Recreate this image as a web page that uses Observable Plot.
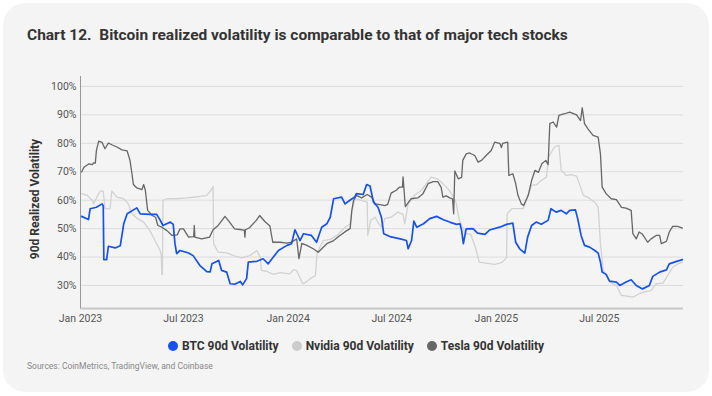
<!DOCTYPE html>
<html><head><meta charset="utf-8">
<script src="https://cdn.jsdelivr.net/npm/d3@7"></script>
<script src="https://cdn.jsdelivr.net/npm/@observablehq/plot@0.6"></script>
<style>
body{margin:0;background:#fff;font-family:Roboto,"Noto Sans",sans-serif;}
#card{position:absolute;left:3px;top:3px;width:706px;height:389px;background:#f4f4f4;border-radius:22px;}
#title{position:absolute;left:27px;top:26px;font-size:15.5px;font-weight:700;color:#333;white-space:nowrap;}
#chart{position:absolute;left:0;top:60px;}
#ylabel{position:absolute;left:35px;top:199px;transform:translate(-50%,-50%) rotate(-90deg);font-size:12px;font-weight:700;color:#333;white-space:nowrap;}
#legend{position:absolute;top:339px;left:0;width:712px;display:flex;justify-content:center;gap:13px;font-size:12px;font-weight:700;color:#333;}
#legend .item{display:flex;align-items:center;gap:4px;}
#legend .dot{width:10px;height:10px;border-radius:50%;}
#src{position:absolute;left:27px;top:361px;font-size:8.5px;color:#888;white-space:nowrap;}
</style></head>
<body>
<div id="card"></div>
<div id="title">Chart 12.&nbsp; Bitcoin realized volatility is comparable to that of major tech stocks</div>
<div id="chart"></div>
<div id="ylabel">90d Realized Volatility</div>
<div id="legend"></div>
<div id="src">Sources: CoinMetrics, TradingView, and Coinbase</div>
<script>
const seriesNames = ["BTC 90d Volatility", "Nvidia 90d Volatility", "Tesla 90d Volatility"];
const seriesColors = ["#1652f0", "#d2d2d2", "#666666"];
const legendColors = ["#1652f0", "#cccccc", "#666666"];
const yTicks = [30, 40, 50, 60, 70, 80, 90, 100];
const xTicks = ["2023-01-01", "2023-07-01", "2024-01-01", "2024-07-01", "2025-01-01", "2025-07-01"];

const btcDates = ["2023-01-03","2023-01-15","2023-01-18","2023-01-29","2023-02-08","2023-02-10","2023-02-11","2023-02-16","2023-02-19","2023-03-03","2023-03-12","2023-03-18","2023-03-24","2023-04-10","2023-04-16","2023-05-03","2023-05-15","2023-05-21","2023-05-26","2023-06-08","2023-06-13","2023-06-16","2023-06-19","2023-06-25","2023-07-10","2023-07-18","2023-07-30","2023-08-11","2023-08-17","2023-08-20","2023-09-01","2023-09-06","2023-09-15","2023-09-21","2023-09-30","2023-10-09","2023-10-13","2023-10-20","2023-10-23","2023-11-07","2023-11-18","2023-11-27","2023-12-06","2023-12-15","2023-12-30","2024-01-07","2024-01-13","2024-01-22","2024-01-28","2024-02-11","2024-02-20","2024-02-29","2024-03-09","2024-03-15","2024-03-21","2024-04-04","2024-04-10","2024-04-18","2024-04-27","2024-04-30","2024-05-12","2024-05-18","2024-05-24","2024-05-30","2024-06-07","2024-06-13","2024-06-17","2024-06-28","2024-07-16","2024-07-27","2024-07-30","2024-08-05","2024-08-09","2024-08-14","2024-08-26","2024-09-06","2024-09-18","2024-09-30","2024-10-11","2024-10-23","2024-10-29","2024-11-01","2024-11-04","2024-11-09","2024-11-21","2024-11-29","2024-12-12","2024-12-20","2025-01-07","2025-01-19","2025-01-30","2025-02-04","2025-02-11","2025-02-20","2025-02-25","2025-03-04","2025-03-12","2025-03-21","2025-04-02","2025-04-07","2025-04-16","2025-04-25","2025-05-04","2025-05-10","2025-05-20","2025-05-24","2025-05-30","2025-06-05","2025-06-14","2025-06-23","2025-06-29","2025-07-03","2025-07-06","2025-07-13","2025-07-19","2025-07-31","2025-08-06","2025-08-17","2025-08-26","2025-09-04","2025-09-15","2025-09-27","2025-10-03","2025-10-15","2025-10-27","2025-11-01","2025-11-10","2025-11-24"];
const btcValues = [54.3,53.2,57.0,57.5,58.7,58.0,39.1,39.1,43.8,43.2,44.0,51.7,55.2,57.3,55.2,55.0,55.0,53.0,51.1,52.3,51.5,44.8,41.2,42.3,41.4,40.5,37.0,34.9,34.8,37.6,38.8,35.3,34.7,30.6,30.5,31.4,30.2,32.4,38.2,38.5,39.4,37.6,40.0,42.3,44.1,44.7,49.6,45.8,48.2,47.6,45.2,50.5,51.7,54.0,60.5,61.1,58.7,59.9,61.1,62.3,62.0,65.5,65.0,59.3,57.5,54.0,48.2,47.2,46.4,45.8,42.9,45.8,52.6,50.5,51.7,53.5,54.3,53.1,52.3,51.5,51.7,49.3,44.7,49.9,50.0,48.4,48.0,49.5,50.5,51.5,51.9,45.2,42.9,41.4,47.0,51.1,52.3,51.5,52.9,57.0,55.8,56.4,55.2,56.4,56.6,53.5,47.6,44.1,43.5,42.3,41.4,38.2,34.7,33.9,31.5,31.2,30.0,31.2,32.0,30.0,28.8,30.0,33.2,34.7,35.5,37.6,38.2,39.1];

const nvdaDates = ["2023-01-03","2023-01-13","2023-01-22","2023-01-24","2023-02-02","2023-02-05","2023-02-10","2023-02-13","2023-02-22","2023-02-25","2023-03-06","2023-03-18","2023-03-26","2023-04-01","2023-04-10","2023-04-22","2023-05-03","2023-05-12","2023-05-21","2023-05-23","2023-05-24","2023-05-25","2023-05-26","2023-06-02","2023-06-19","2023-07-07","2023-07-30","2023-08-11","2023-08-18","2023-08-22","2023-08-23","2023-08-31","2023-09-15","2023-09-27","2023-10-11","2023-10-26","2023-11-07","2023-11-13","2023-11-15","2023-11-24","2023-12-06","2023-12-18","2024-01-04","2024-01-10","2024-01-16","2024-01-25","2024-01-28","2024-02-09","2024-02-18","2024-02-21","2024-03-03","2024-03-15","2024-03-27","2024-04-10","2024-04-19","2024-04-22","2024-04-28","2024-05-07","2024-05-19","2024-05-20","2024-05-25","2024-06-02","2024-06-07","2024-06-14","2024-06-19","2024-06-30","2024-07-12","2024-07-21","2024-07-24","2024-07-30","2024-08-10","2024-08-22","2024-09-02","2024-09-08","2024-09-20","2024-10-02","2024-10-10","2024-10-16","2024-10-22","2024-10-28","2024-11-08","2024-11-17","2024-11-26","2024-12-02","2024-12-20","2024-12-29","2025-01-10","2025-01-19","2025-01-20","2025-01-28","2025-02-17","2025-02-23","2025-03-04","2025-03-13","2025-03-21","2025-03-30","2025-04-03","2025-04-13","2025-04-21","2025-04-25","2025-05-04","2025-05-13","2025-05-22","2025-05-28","2025-06-03","2025-06-11","2025-06-23","2025-06-29","2025-07-03","2025-07-08","2025-07-19","2025-07-31","2025-08-09","2025-08-17","2025-08-29","2025-09-09","2025-09-21","2025-09-30","2025-10-09","2025-10-21","2025-10-29","2025-11-07","2025-11-16","2025-11-24"];
const nvdaValues = [62.3,61.7,59.9,58.7,62.3,63.2,63.2,57.0,57.0,63.2,61.1,60.5,58.7,55.2,53.7,52.3,49.3,45.8,42.3,40.5,33.9,33.9,59.9,60.5,60.5,60.8,61.3,61.7,63.4,64.8,44.7,41.7,41.5,40.5,39.7,40.5,42.3,40.0,35.3,35.0,33.9,34.5,34.1,35.5,35.3,31.2,30.6,32.4,33.5,41.7,45.8,46.2,47.6,50.5,51.7,56.4,60.5,60.0,59.3,47.6,52.9,54.0,52.0,50.5,53.5,54.0,55.8,55.0,51.7,58.7,61.7,63.4,66.3,68.1,67.5,65.2,63.5,61.7,59.3,52.9,48.2,48.0,42.9,38.2,37.7,37.4,38.0,39.7,55.2,57.0,57.0,59.9,65.2,65.5,66.9,68.1,75.2,78.7,79.3,70.5,68.7,69.0,68.5,65.2,61.7,61.0,59.3,57.5,44.7,35.3,31.2,30.0,26.5,26.3,25.9,27.1,27.8,28.2,30.6,30.8,33.5,36.4,37.6,38.2];

const tslaDates = ["2023-01-03","2023-01-07","2023-01-16","2023-01-22","2023-01-24","2023-01-27","2023-01-29","2023-02-02","2023-02-08","2023-02-13","2023-02-19","2023-02-25","2023-03-06","2023-03-15","2023-03-24","2023-03-29","2023-04-01","2023-04-04","2023-04-10","2023-04-19","2023-04-22","2023-04-25","2023-04-29","2023-05-07","2023-05-13","2023-05-17","2023-05-24","2023-06-02","2023-06-11","2023-06-20","2023-06-25","2023-07-01","2023-07-10","2023-07-19","2023-07-20","2023-07-21","2023-08-02","2023-08-16","2023-08-22","2023-08-31","2023-09-12","2023-09-20","2023-09-29","2023-10-11","2023-10-16","2023-10-17","2023-10-18","2023-10-25","2023-11-06","2023-11-12","2023-11-21","2023-11-30","2023-12-05","2023-12-18","2023-12-30","2024-01-07","2024-01-16","2024-01-20","2024-01-25","2024-02-03","2024-02-14","2024-02-23","2024-02-29","2024-03-09","2024-03-21","2024-04-01","2024-04-13","2024-04-19","2024-04-22","2024-04-25","2024-04-30","2024-05-09","2024-05-19","2024-05-27","2024-06-02","2024-06-10","2024-06-19","2024-06-24","2024-06-30","2024-07-09","2024-07-15","2024-07-20","2024-07-21","2024-07-25","2024-08-04","2024-08-16","2024-08-25","2024-09-03","2024-09-12","2024-09-20","2024-09-26","2024-09-29","2024-10-05","2024-10-11","2024-10-16","2024-10-18","2024-10-20","2024-10-26","2024-11-01","2024-11-03","2024-11-09","2024-11-15","2024-11-24","2024-11-30","2024-12-06","2024-12-14","2024-12-23","2024-12-29","2025-01-07","2025-01-10","2025-01-12","2025-01-21","2025-01-23","2025-01-30","2025-02-04","2025-02-08","2025-02-14","2025-02-18","2025-02-26","2025-03-04","2025-03-10","2025-03-16","2025-03-22","2025-03-29","2025-04-02","2025-04-05","2025-04-11","2025-04-17","2025-04-21","2025-05-01","2025-05-10","2025-05-22","2025-05-29","2025-06-01","2025-06-05","2025-06-11","2025-06-20","2025-06-29","2025-07-03","2025-07-06","2025-07-13","2025-07-22","2025-07-31","2025-08-09","2025-08-17","2025-08-26","2025-08-29","2025-09-04","2025-09-09","2025-09-15","2025-09-24","2025-09-30","2025-10-09","2025-10-15","2025-10-18","2025-10-27","2025-11-01","2025-11-07","2025-11-16","2025-11-24"];
const tslaValues = [69.9,71.6,72.8,72.5,73.1,73.0,77.5,80.8,80.3,78.1,80.1,79.5,78.7,77.7,77.3,74.0,69.9,65.5,64.3,63.7,65.5,63.5,56.4,54.6,54.0,51.1,50.5,49.3,47.6,47.8,49.9,49.9,47.0,47.2,51.1,47.0,46.4,47.0,49.6,51.1,54.3,52.3,49.9,49.6,49.5,47.0,49.6,50.3,52.9,54.6,52.5,50.9,45.2,45.2,44.9,45.2,46.4,39.4,44.8,44.1,42.9,41.7,42.9,44.7,45.8,47.6,49.3,50.0,56.4,59.9,61.7,60.8,62.0,61.0,58.7,58.4,58.1,58.5,62.5,63.5,64.6,64.6,68.2,57.7,60.5,60.8,62.3,65.8,66.5,66.5,64.5,61.1,61.5,60.8,60.5,55.2,70.3,67.5,68.0,74.0,76.3,76.6,75.7,73.4,74.0,75.7,77.5,80.4,80.0,78.5,80.0,80.4,68.7,69.3,65.8,61.7,58.7,58.1,61.7,66.9,70.5,69.8,72.8,74.0,72.5,86.9,87.5,85.7,89.8,90.4,91.0,90.0,88.0,92.5,86.9,85.1,82.8,82.2,76.3,64.6,62.3,60.5,60.2,57.5,57.2,56.4,48.2,46.4,48.8,48.0,45.2,46.4,47.6,47.6,44.7,45.5,48.8,50.8,50.8,50.2];

const parse = d3.utcParse("%Y-%m-%d");
const toRows = (dates, values) => dates.map((d, i) => ({date: parse(d), v: values[i]}));
const btc = toRows(btcDates, btcValues);
const nvda = toRows(nvdaDates, nvdaValues);
const tsla = toRows(tslaDates, tslaValues);

const xDomain = [parse("2023-01-01"), parse("2025-11-26")];
const yDomain = [21.9, 103.5];

const chart = Plot.plot({
  width: 712, height: 270,
  marginLeft: 80, marginRight: 29, marginTop: 16, marginBottom: 22,
  style: {background: "transparent", fontFamily: "Roboto, sans-serif", fontSize: "10.5px", color: "#555", overflow: "visible"},
  x: {type: "utc", domain: xDomain},
  y: {domain: yDomain},
  marks: [
    Plot.gridY(yTicks, {stroke: "#dcdcdc", strokeOpacity: 1, strokeWidth: 1}),
    Plot.axisY(yTicks, {tickSize: 0, tickPadding: 4, tickFormat: d => d + "%", label: null, fill: "#555"}),
    Plot.axisX(xTicks.map(parse), {tickSize: 0, tickPadding: 6, tickFormat: d3.utcFormat("%b %Y"), label: null, fill: "#555"}),
    Plot.ruleY([yDomain[0]], {stroke: "#c8c8c8", strokeWidth: 2}),
    Plot.ruleX([xDomain[0]], {stroke: "#999", strokeWidth: 1}),
    Plot.line(nvda, {x: "date", y: "v", stroke: seriesColors[1], strokeWidth: 1.3}),
    Plot.line(tsla, {x: "date", y: "v", stroke: seriesColors[2], strokeWidth: 1.3}),
    Plot.line(btc, {x: "date", y: "v", stroke: seriesColors[0], strokeWidth: 1.7})
  ]
});
document.getElementById("chart").appendChild(chart);

const legend = d3.select("#legend");
seriesNames.forEach((n, i) => {
  const it = legend.append("div").attr("class", "item");
  it.append("div").attr("class", "dot").style("background", legendColors[i]);
  it.append("span").text(n);
});
</script>
</body></html>
